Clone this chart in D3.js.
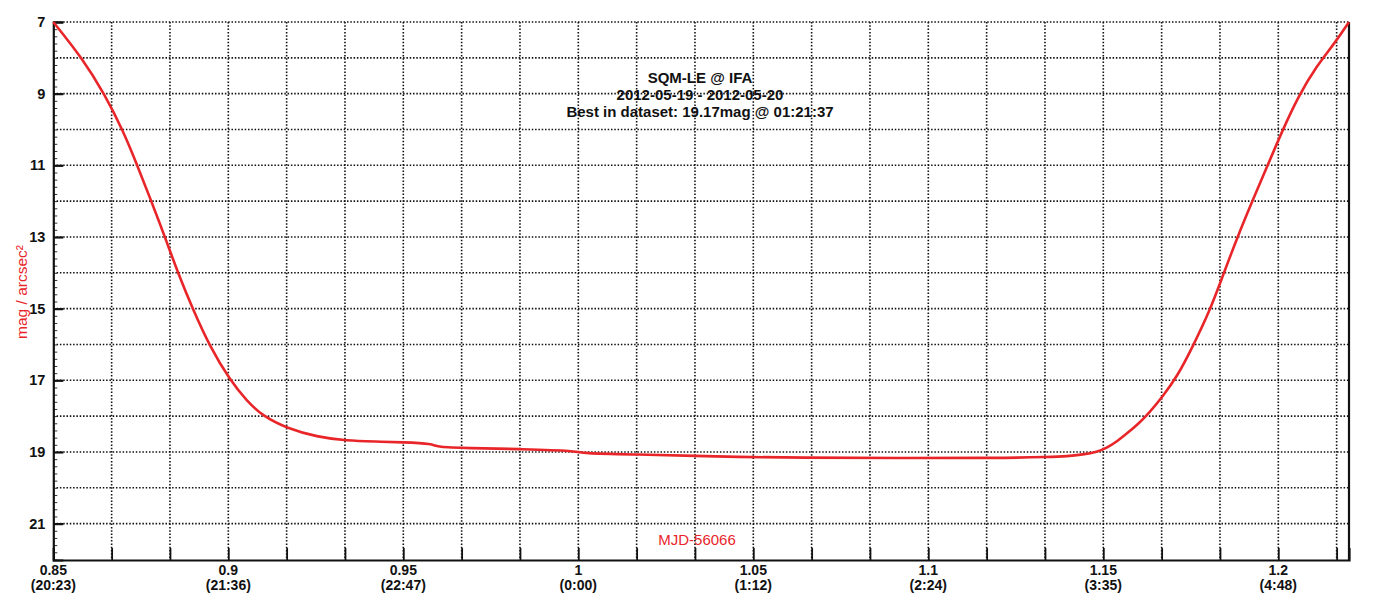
<!DOCTYPE html>
<html><head><meta charset="utf-8">
<script src="https://cdn.jsdelivr.net/npm/d3@7"></script>
<style>
html,body{margin:0;padding:0;background:#fff;}
svg{display:block;font-family:"Liberation Sans",Arial,sans-serif;}
</style></head>
<body><svg id="c" width="1373" height="604"></svg>
<script>
// ---- data (MJD-56066, mag/arcsec^2) ----
const mjd = [0.8500,0.8582,0.8648,0.8700,0.8739,0.8776,0.8819,0.8856,0.8899,0.8947,0.9005,0.9053,0.9099,0.9168,0.9253,0.9339,0.9420,0.9499,0.9585,
  0.9596,0.9682,0.9842,0.9996,1.0005,1.0168,1.0348,1.0442,1.0633,1.0919,1.1205,1.1348,1.1396,1.1442,1.1482,1.1511,1.1540,1.1568,1.1600,1.1630,
  1.1668,1.1711,1.1756,1.1805,1.1839,1.1882,1.1927,1.1970,1.2010,1.2056,1.2110,1.2162,1.2202];
const mag = [7.00,8.00,9.04,10.05,10.98,11.90,13.00,14.00,15.02,16.05,17.00,17.58,18.00,18.34,18.58,18.69,18.71,18.73,18.77,
  18.87,18.89,18.92,18.97,19.04,19.07,19.11,19.14,19.16,19.17,19.17,19.14,19.12,19.07,19.00,18.88,18.70,18.48,18.22,17.92,
  17.47,16.90,16.05,15.04,14.15,13.03,11.97,10.99,10.07,9.09,8.22,7.58,7.00];
const xTickValues = [0.85,0.9,0.95,1.0,1.05,1.1,1.15,1.2];
const xTickNames  = ["0.85","0.9","0.95","1","1.05","1.1","1.15","1.2"];
const xTickTimes  = ["(20:23)","(21:36)","(22:47)","(0:00)","(1:12)","(2:24)","(3:35)","(4:48)"];
const yTickValues = [7,9,11,13,15,17,19,21];
const titleLines = ["SQM-LE @ IFA","2012-05-19 - 2012-05-20","Best in dataset: 19.17mag @ 01:21:37"];
const xTitle = "MJD-56066";
const yTitle = "mag / arcsec²";

// ---- layout ----
const L = 53.3, R = 1349, T = 22, B = 560;
const x = d3.scaleLinear().domain([0.85, 0.85 + (R - L) / 3500]).range([L, R]);
const y = d3.scaleLinear().domain([7, 7 + (B - T) / 35.83]).range([T, B]);
const svg = d3.select("#c");
const red = "#e8262a";
const ink = "#111";

// grid
const gx = d3.range(1, 23).map(i => 0.85 + i / 60).filter(v => x(v) < R - 2);
const gy = d3.range(7, 22, 1);
const grid = svg.append("g").attr("stroke", "#111").attr("stroke-width", 1.6).attr("stroke-dasharray", "1.5,1.8");
grid.selectAll(".vx").data(gx).join("line")
  .attr("x1", d => x(d)).attr("x2", d => x(d)).attr("y1", T).attr("y2", B);
grid.selectAll(".hy").data(gy).join("line")
  .attr("x1", L).attr("x2", R).attr("y1", d => y(d)).attr("y2", d => y(d));

// bottom axis
const xAxis = d3.axisBottom(x).tickValues([0.85].concat(gx)).tickSize(-12).tickFormat("");
const gxa = svg.append("g").attr("transform", `translate(0,${B})`).call(xAxis);
gxa.select(".domain").attr("stroke", ink).attr("stroke-width", 2.2);
gxa.selectAll(".tick line").attr("stroke", ink).attr("stroke-width", 1.8);

// left axis: minor ticks and labelled major ticks
const yMinor = d3.range(7, 22.01, 0.2);
const yAxisMinor = d3.axisLeft(y).tickValues(yMinor).tickSize(-4).tickFormat("");
const gym = svg.append("g").attr("transform", `translate(${L},0)`).call(yAxisMinor);
gym.select(".domain").remove();
gym.selectAll(".tick line").attr("stroke", "#333").attr("stroke-width", 1);
const yAxis = d3.axisLeft(y).tickValues(yTickValues).tickSize(-10).tickPadding(8).tickFormat(d3.format("d"));
const gya = svg.append("g").attr("transform", `translate(${L},0)`).call(yAxis);
gya.select(".domain").attr("stroke", ink).attr("stroke-width", 2.2);
gya.selectAll(".tick line").attr("stroke", ink).attr("stroke-width", 2.2);
gya.selectAll(".tick text").attr("font-size", 14.5).attr("font-weight", "bold").attr("fill", ink)
  .attr("font-family", "Liberation Sans, Arial, sans-serif");

// right border
svg.append("line").attr("x1", R).attr("x2", R).attr("y1", T).attr("y2", B + 1)
  .attr("stroke", ink).attr("stroke-width", 2.2);

// x tick labels
const xl = svg.append("g").attr("font-size", 14).attr("font-weight", "bold").attr("fill", ink).attr("text-anchor", "middle");
xl.selectAll(".n").data(xTickValues).join("text")
  .attr("x", d => x(d)).attr("y", 575).text((d, i) => xTickNames[i]);
xl.selectAll(".t").data(xTickValues).join("text")
  .attr("x", d => x(d)).attr("y", 590).text((d, i) => xTickTimes[i]);

// curve
svg.append("path").datum(mjd.map((d, i) => [d, mag[i]]))
  .attr("fill", "none").attr("stroke", red).attr("stroke-width", 2.6)
  .attr("stroke-linejoin", "round")
  .attr("d", d3.line().x(d => x(d[0])).y(d => y(d[1])).curve(d3.curveBasis));

// title
svg.append("g").attr("font-size", 15).attr("font-weight", "bold").attr("fill", ink).attr("text-anchor", "middle")
  .selectAll("text").data(titleLines).join("text")
  .attr("x", 700).attr("y", (d, i) => 83 + i * 17).text(d => d);

// axis titles
svg.append("text").attr("x", 697).attr("y", 545).attr("text-anchor", "middle")
  .attr("font-size", 15).attr("fill", red).text(xTitle);
svg.append("text").attr("transform", "translate(27,292) rotate(-90)").attr("text-anchor", "middle")
  .attr("font-size", 15.5).attr("fill", red).text(yTitle);
</script></body></html>
